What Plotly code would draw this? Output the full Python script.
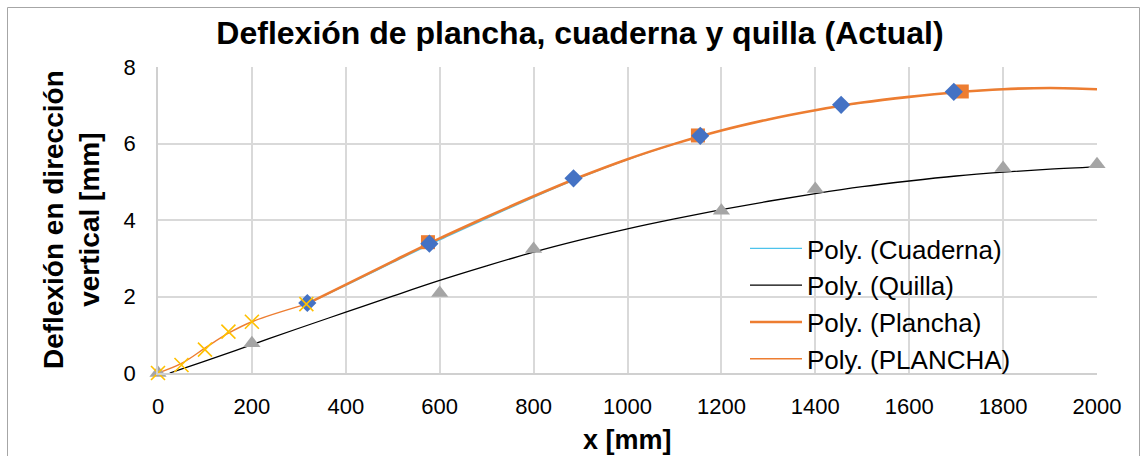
import plotly.graph_objects as go

# ---- data ----
cuaderna_x = [318, 578, 885, 1155, 1455, 1695]
cuaderna_y = [1.83, 3.38, 5.09, 6.20, 7.01, 7.35]

plancha_x = [575, 1150, 1712]
plancha_y = [3.42, 6.21, 7.36]

quilla_x = [0, 200, 600, 800, 1200, 1400, 1800, 2000]
quilla_y = [0, 0.78, 2.09, 3.24, 4.24, 4.81, 5.36, 5.46]

planchaB_x = [0, 50, 100, 150, 200, 316]
planchaB_y = [0, 0.21, 0.61, 1.08, 1.34, 1.80]

# trendlines
trend_x = [316, 400, 500, 600, 700, 800, 900, 1000, 1100, 1200, 1300, 1400,
           1500, 1600, 1700, 1800, 1900, 2000]
trend_cuaderna = [1.80, 2.29, 2.89, 3.48, 4.04, 4.59, 5.11, 5.58, 5.99, 6.34,
                  6.63, 6.87, 7.07, 7.22, 7.34, 7.42, 7.45, 7.42]
trend_plancha = [1.80, 2.31, 2.92, 3.52, 4.08, 4.62, 5.13, 5.59, 5.99, 6.34,
                 6.63, 6.87, 7.07, 7.22, 7.34, 7.42, 7.45, 7.42]

trend_quilla_x = [25, 100, 200, 300, 400, 500, 600, 700, 800, 900, 1000, 1100,
                  1200, 1300, 1400, 1500, 1600, 1700, 1800, 1900, 2000]
trend_quilla = [0, 0.31, 0.74, 1.17, 1.59, 2.01, 2.42, 2.80, 3.16, 3.48, 3.77,
                4.03, 4.27, 4.49, 4.69, 4.87, 5.02, 5.15, 5.25, 5.33, 5.39]

trend_planchaB_x = [0, 50, 100, 150, 200, 316]
trend_planchaB = [0, 0.25, 0.65, 1.04, 1.34, 1.80]

x_ticks = [0, 200, 400, 600, 800, 1000, 1200, 1400, 1600, 1800, 2000]
y_ticks = [0, 2, 4, 6, 8]

# ---- layout constants (pixels) ----
W, H = 1142, 456
L, R, T, B = 158, 1097, 67, 373

FONT = "Liberation Sans, Arial, sans-serif"
ORANGE = "#ED7D31"

fig = go.Figure()

# trendlines
fig.add_trace(go.Scatter(x=trend_x, y=trend_cuaderna, mode="lines", line_shape="spline",
                         line=dict(color="#4DC3EC", width=1.2),
                         name="Poly. (Cuaderna)", legendgroup="a"))
fig.add_trace(go.Scatter(x=trend_quilla_x, y=trend_quilla, mode="lines", line_shape="spline",
                         line=dict(color="#000000", width=1.3),
                         name="Poly. (Quilla)", legendgroup="b"))
fig.add_trace(go.Scatter(x=trend_x, y=trend_plancha, mode="lines", line_shape="spline",
                         line=dict(color=ORANGE, width=2.6),
                         name="Poly. (Plancha)", legendgroup="c"))
fig.add_trace(go.Scatter(x=trend_planchaB_x, y=trend_planchaB, mode="lines", line_shape="spline",
                         line=dict(color=ORANGE, width=1.4),
                         name="Poly. (PLANCHA)", legendgroup="d"))

# markers
fig.add_trace(go.Scatter(x=quilla_x, y=quilla_y, mode="markers", showlegend=False,
                         cliponaxis=False,
                         marker=dict(symbol="triangle-up", size=15, color="#A5A5A5")))
fig.add_trace(go.Scatter(x=plancha_x, y=plancha_y, mode="markers", showlegend=False,
                         cliponaxis=False,
                         marker=dict(symbol="square", size=14, color=ORANGE)))
fig.add_trace(go.Scatter(x=cuaderna_x, y=cuaderna_y, mode="markers", showlegend=False,
                         cliponaxis=False,
                         marker=dict(symbol="diamond", size=14, color="#4472C4")))
fig.add_trace(go.Scatter(x=planchaB_x, y=planchaB_y, mode="markers", showlegend=False,
                         cliponaxis=False,
                         marker=dict(symbol="x-thin-open", size=14, color="#FFC000",
                                     line=dict(color="#FFC000", width=1.6))))

pw = R - L
ph = B - T

def px_x(p):
    return (p - L) / pw

def px_y(p):
    return (B - p) / ph

fig.update_layout(
    width=W, height=H,
    margin=dict(l=L, r=W - R, t=T, b=H - B, pad=0),
    paper_bgcolor="white", plot_bgcolor="white",
    font=dict(family=FONT, color="#000000", size=22),
    title=dict(text="<b>Deflexión de plancha, cuaderna y quilla (Actual)</b>",
               x=580 / W, xanchor="center", y=1 - 33 / H, yanchor="middle",
               font=dict(size=32, family=FONT, color="#000000")),
    xaxis=dict(range=[0, 2000], tickvals=x_ticks, showgrid=True, gridcolor="#D9D9D9",
               gridwidth=1.6, zeroline=False, showline=True, linecolor="#D0D0D0", linewidth=1.6,
               ticks="", ticklabelstandoff=13, tickfont=dict(size=22)),
    yaxis=dict(range=[0, 8], tickvals=y_ticks, showgrid=True, gridcolor="#D9D9D9",
               gridwidth=1.6, zeroline=False, showline=True, linecolor="#D0D0D0", linewidth=1.6,
               ticks="", ticklabelstandoff=16, tickfont=dict(size=22)),
    legend=dict(x=px_x(745), y=px_y(225), xanchor="left", yanchor="top",
                bgcolor="rgba(0,0,0,0)", font=dict(size=26), tracegroupgap=0,
                itemwidth=52),
    showlegend=True,
)

fig.add_annotation(text="<b>Deflexión en dirección<br>vertical [mm]</b>", textangle=-90,
                   xref="paper", yref="paper", x=px_x(71), y=0.5,
                   xanchor="center", yanchor="middle", showarrow=False,
                   font=dict(size=28, family=FONT, color="#000000"))
fig.add_annotation(text="<b>x [mm]</b>", xref="paper", yref="paper",
                   x=0.5, y=px_y(440), xanchor="center", yanchor="middle",
                   showarrow=False, font=dict(size=27, family=FONT, color="#000000"))

# outer chart border
fig.add_shape(type="rect", xref="paper", yref="paper",
              x0=px_x(7.5), x1=px_x(1139.5), y0=px_y(470), y1=px_y(7.5),
              line=dict(color="#A6A6A6", width=1), fillcolor="rgba(0,0,0,0)", layer="below")

fig.write_html("out.html", config={"displayModeBar": False},
               post_script="document.body.style.margin='0';document.body.style.overflow='hidden';")
